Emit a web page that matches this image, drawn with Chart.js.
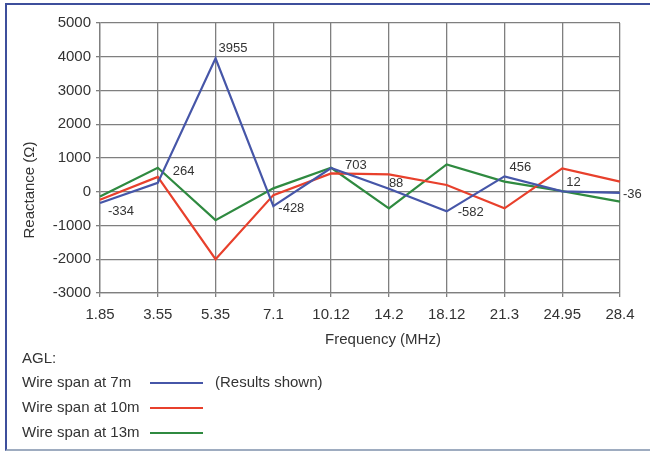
<!DOCTYPE html>
<html>
<head>
<meta charset="utf-8">
<script src="https://cdn.jsdelivr.net/npm/chart.js@4"></script>
<style>
  body { margin: 0; background: #ffffff; font-family: "Liberation Sans", Arial, sans-serif; color: #333; }
  #wrap { position: relative; width: 650px; height: 452px; overflow: hidden; }
  #frame { position: absolute; left: 5px; top: 3px; width: 660px; height: 444px;
           border-top: 2px solid #3d4f9c; border-left: 2px solid #3d4f9c; border-bottom: 2px solid #9eacc0; }
  canvas { position: absolute; left: 0; top: 0; }
  .txt { position: absolute; font-size: 15px; color: #333; white-space: nowrap; line-height: 18px; }
  .swatch { position: absolute; height: 2px; width: 53px; }
</style>
</head>
<body>
<div id="wrap">
  <div id="frame"></div>
  <canvas id="reactChart" width="650" height="452"></canvas>
  <div class="txt" style="left:22px;top:349px">AGL:</div>
  <div class="txt" style="left:22px;top:373px">Wire span at 7m</div>
  <div class="txt" style="left:22px;top:398px">Wire span at 10m</div>
  <div class="txt" style="left:22px;top:423px">Wire span at 13m</div>
  <div class="txt" style="left:215px;top:373px">(Results shown)</div>
  <div class="swatch" style="left:150px;top:382px;background:#4656a8"></div>
  <div class="swatch" style="left:150px;top:407px;background:#e8402c"></div>
  <div class="swatch" style="left:150px;top:432px;background:#2f8a40"></div>
</div>
<script>
// Chart data
const frequencies = ['1.85', '3.55', '5.35', '7.1', '10.12', '14.2', '18.12', '21.3', '24.95', '28.4'];
const span7m = [-334, 264, 3955, -428, 703, 88, -582, 456, 12, -36];
const span10m = [-240, 440, -2000, -100, 545, 515, 200, -490, 690, 300];
const span13m = [-140, 710, -840, 100, 710, -490, 810, 300, 20, -295];

// Where each value label of the 7m series sits, relative to its point
const labelOffsets = [[8, 8], [15, -11], [3, -10], [5, 2], [14, -3], [0, -5], [11, 1], [5, -9], [4, -9], [3, 1]];

const FONT = '"Liberation Sans", Arial, sans-serif';

// Draws the 7m values next to the points, plus the axis titles
const valueLabels = {
    id: 'valueLabels',
    afterDatasetsDraw(chart) {
        const ctx = chart.ctx;
        const meta = chart.getDatasetMeta(0);
        ctx.save();
        ctx.fillStyle = '#333';
        ctx.font = '13px ' + FONT;
        ctx.textAlign = 'left';
        ctx.textBaseline = 'middle';
        meta.data.forEach((pt, i) => {
            const off = labelOffsets[i];
            ctx.fillText(String(span7m[i]), pt.x + off[0], pt.y + off[1]);
        });

        // axis titles
        ctx.font = '15px ' + FONT;
        ctx.textAlign = 'center';
        ctx.fillText('Frequency (MHz)', 383, 340);
        ctx.translate(30, 190);
        ctx.rotate(-Math.PI / 2);
        ctx.fillText('Reactance (\u03A9)', 0, 0);
        ctx.restore();
    }
};

function initChart() {
    const ctx = document.getElementById('reactChart').getContext('2d');
    const gridColor = '#7f7f7f';

    new Chart(ctx, {
        type: 'line',
        data: {
            labels: frequencies,
            datasets: [
                { label: 'Wire span at 7m', data: span7m, borderColor: '#4656a8' },
                { label: 'Wire span at 10m', data: span10m, borderColor: '#e8402c' },
                { label: 'Wire span at 13m', data: span13m, borderColor: '#2f8a40' }
            ].map(d => Object.assign(d, { borderWidth: 2.2, pointRadius: 0, tension: 0, fill: false }))
        },
        options: {
            responsive: false,
            animation: false,
            layout: { padding: { left: 0, right: 30, top: 23, bottom: 104 } },
            plugins: {
                legend: { display: false },
                tooltip: { enabled: false }
            },
            scales: {
                x: {
                    offset: false,
                    afterFit: (scale) => { scale.height = 55; },
                    grid: { color: gridColor, lineWidth: 1.3, tickLength: 4 },
                    border: { color: gridColor, width: 1.3 },
                    ticks: {
                        color: '#333',
                        padding: 9,
                        maxRotation: 0,
                        autoSkip: false,
                        font: { size: 15, family: FONT }
                    }
                },
                y: {
                    min: -3000,
                    max: 5000,
                    afterFit: (scale) => { scale.width = 100; },
                    grid: { color: gridColor, lineWidth: 1.3, tickLength: 4 },
                    border: { color: gridColor, width: 1.3 },
                    ticks: {
                        stepSize: 1000,
                        color: '#333',
                        padding: 5,
                        font: { size: 15, family: FONT },
                        callback: (value) => String(value)
                    }
                }
            }
        },
        plugins: [valueLabels]
    });
}

initChart();
</script>
</body>
</html>
